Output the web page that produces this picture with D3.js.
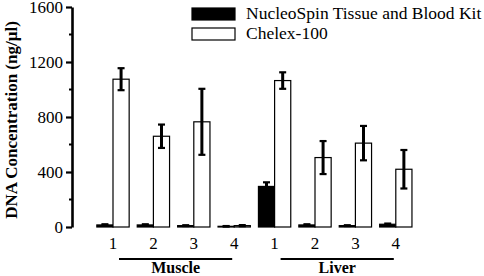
<!DOCTYPE html>
<html>
<head>
<meta charset="utf-8">
<script src="https://cdn.jsdelivr.net/npm/d3@7"></script>
<style>
  body { margin: 0; background: #fff; }
  text { font-family: "Liberation Serif", "Times New Roman", serif; }
</style>
</head>
<body>
<div id="chart"></div>
<script>
// samples, in order (Muscle 1-4, Liver 1-4)
const samples = ["M1", "M2", "M3", "M4", "L1", "L2", "L3", "L4"];
const sampleLabels = ["1", "2", "3", "4", "1", "2", "3", "4"];
const series = ["NucleoSpin Tissue and Blood Kit", "Chelex-100"];

// mean DNA concentration (ng/µl) and error
const nucleoSpin = [15, 15, 10, 5, 295, 15, 10, 20];
const nucleoSpinErr = [5, 5, 3, 2, 30, 5, 3, 5];
const chelex = [1075, 660, 765, 10, 1065, 505, 610, 420];
const chelexErr = [80, 85, 240, 4, 60, 120, 125, 140];

const groups = [
  { name: "Muscle", from: "M1", to: "M4" },
  { name: "Liver", from: "L1", to: "L4" }
];
const yTicks = [0, 400, 800, 1200, 1600];
const yMinor = [200, 600, 1000, 1400];

const W = 484, H = 276;
const svg = d3.select("#chart").append("svg")
  .attr("width", W).attr("height", H);

const x = d3.scaleBand().domain(samples).range([92.8, 416])
  .paddingInner(0.2).paddingOuter(0.1);
const xSub = d3.scaleBand().domain(series).range([0, x.bandwidth()]);
const y = d3.scaleLinear().domain([0, 1600]).range([227, 7]);
const color = d3.scaleOrdinal().domain(series).range(["#000", "#fff"]);

// rows: one per sample and series
const rows = [];
samples.forEach((s, i) => {
  rows.push({ s, key: series[0], v: nucleoSpin[i], e: nucleoSpinErr[i] });
  rows.push({ s, key: series[1], v: chelex[i], e: chelexErr[i] });
});

// bars
svg.append("g").selectAll("rect").data(rows).join("rect")
  .attr("x", d => x(d.s) + xSub(d.key))
  .attr("y", d => y(d.v))
  .attr("width", xSub.bandwidth())
  .attr("height", d => y(0) - y(d.v))
  .attr("fill", d => color(d.key))
  .attr("stroke", "#000").attr("stroke-width", 1.2);

// error bars
const eb = svg.append("g").attr("stroke", "#000");
const cx = d => x(d.s) + xSub(d.key) + xSub.bandwidth() / 2;
eb.selectAll("line.v").data(rows).join("line").attr("class", "v")
  .attr("x1", cx).attr("x2", cx)
  .attr("y1", d => y(d.v + d.e)).attr("y2", d => y(Math.max(0, d.v - d.e)))
  .attr("stroke-width", 3);
eb.selectAll("line.t").data(rows).join("line").attr("class", "t")
  .attr("x1", d => cx(d) - 3.5).attr("x2", d => cx(d) + 3.5)
  .attr("y1", d => y(d.v + d.e)).attr("y2", d => y(d.v + d.e))
  .attr("stroke-width", 2.2);
eb.selectAll("line.b").data(rows).join("line").attr("class", "b")
  .attr("x1", d => cx(d) - 3.5).attr("x2", d => cx(d) + 3.5)
  .attr("y1", d => y(Math.max(0, d.v - d.e))).attr("y2", d => y(Math.max(0, d.v - d.e)))
  .attr("stroke-width", 2.2);

// y axis
const yAxis = svg.append("g").attr("transform", "translate(72,0)")
  .call(d3.axisLeft(y).tickValues(yTicks).tickFormat(d3.format("d"))
    .tickSize(6).tickPadding(3).tickSizeOuter(0))
  .attr("font-family", "Liberation Serif, serif")
  .attr("font-size", 17);
yAxis.select(".domain").attr("stroke-width", 2.6);
yAxis.selectAll(".tick line").attr("stroke-width", 2.2);
yAxis.selectAll(".tick text").attr("fill", "#000").attr("dy", "0.34em");
svg.append("g").selectAll("line").data(yMinor).join("line")
  .attr("x1", 69).attr("x2", 72)
  .attr("y1", d => y(d)).attr("y2", d => y(d))
  .attr("stroke", "#000").attr("stroke-width", 2);

// y title
svg.append("text")
  .attr("transform", `translate(17,${(y(0) + y(1600)) / 2 + 3}) rotate(-90)`)
  .attr("text-anchor", "middle")
  .attr("font-size", 17).attr("font-weight", "bold")
  .text("DNA Concentration (ng/µl)");

// sample labels
svg.append("g").selectAll("text").data(samples).join("text")
  .attr("x", d => x(d) + x.bandwidth() / 2)
  .attr("y", 249)
  .attr("text-anchor", "middle")
  .attr("font-size", 17)
  .text((d, i) => sampleLabels[i]);

// group brackets
const gg = svg.append("g").selectAll("g").data(groups).join("g");
gg.append("line")
  .attr("x1", d => x(d.from) + x.bandwidth() / 2 + 6)
  .attr("x2", d => x(d.to) + x.bandwidth() / 2 - 2)
  .attr("y1", 259).attr("y2", 259)
  .attr("stroke", "#000").attr("stroke-width", 2);
gg.append("text")
  .attr("x", d => (x(d.from) + x(d.to) + x.bandwidth()) / 2 + 2)
  .attr("y", 273)
  .attr("text-anchor", "middle")
  .attr("font-size", 16).attr("font-weight", "bold")
  .text(d => d.name);

// legend
const lg = svg.append("g").selectAll("g").data(series).join("g")
  .attr("transform", (d, i) => `translate(192,${8 + i * 20})`);
lg.append("rect").attr("width", 43).attr("height", 12)
  .attr("fill", d => color(d)).attr("stroke", "#000").attr("stroke-width", 1.2);
lg.append("text").attr("x", 54).attr("y", 11)
  .attr("font-size", 17.5)
  .text(d => d);
</script>
</body>
</html>
